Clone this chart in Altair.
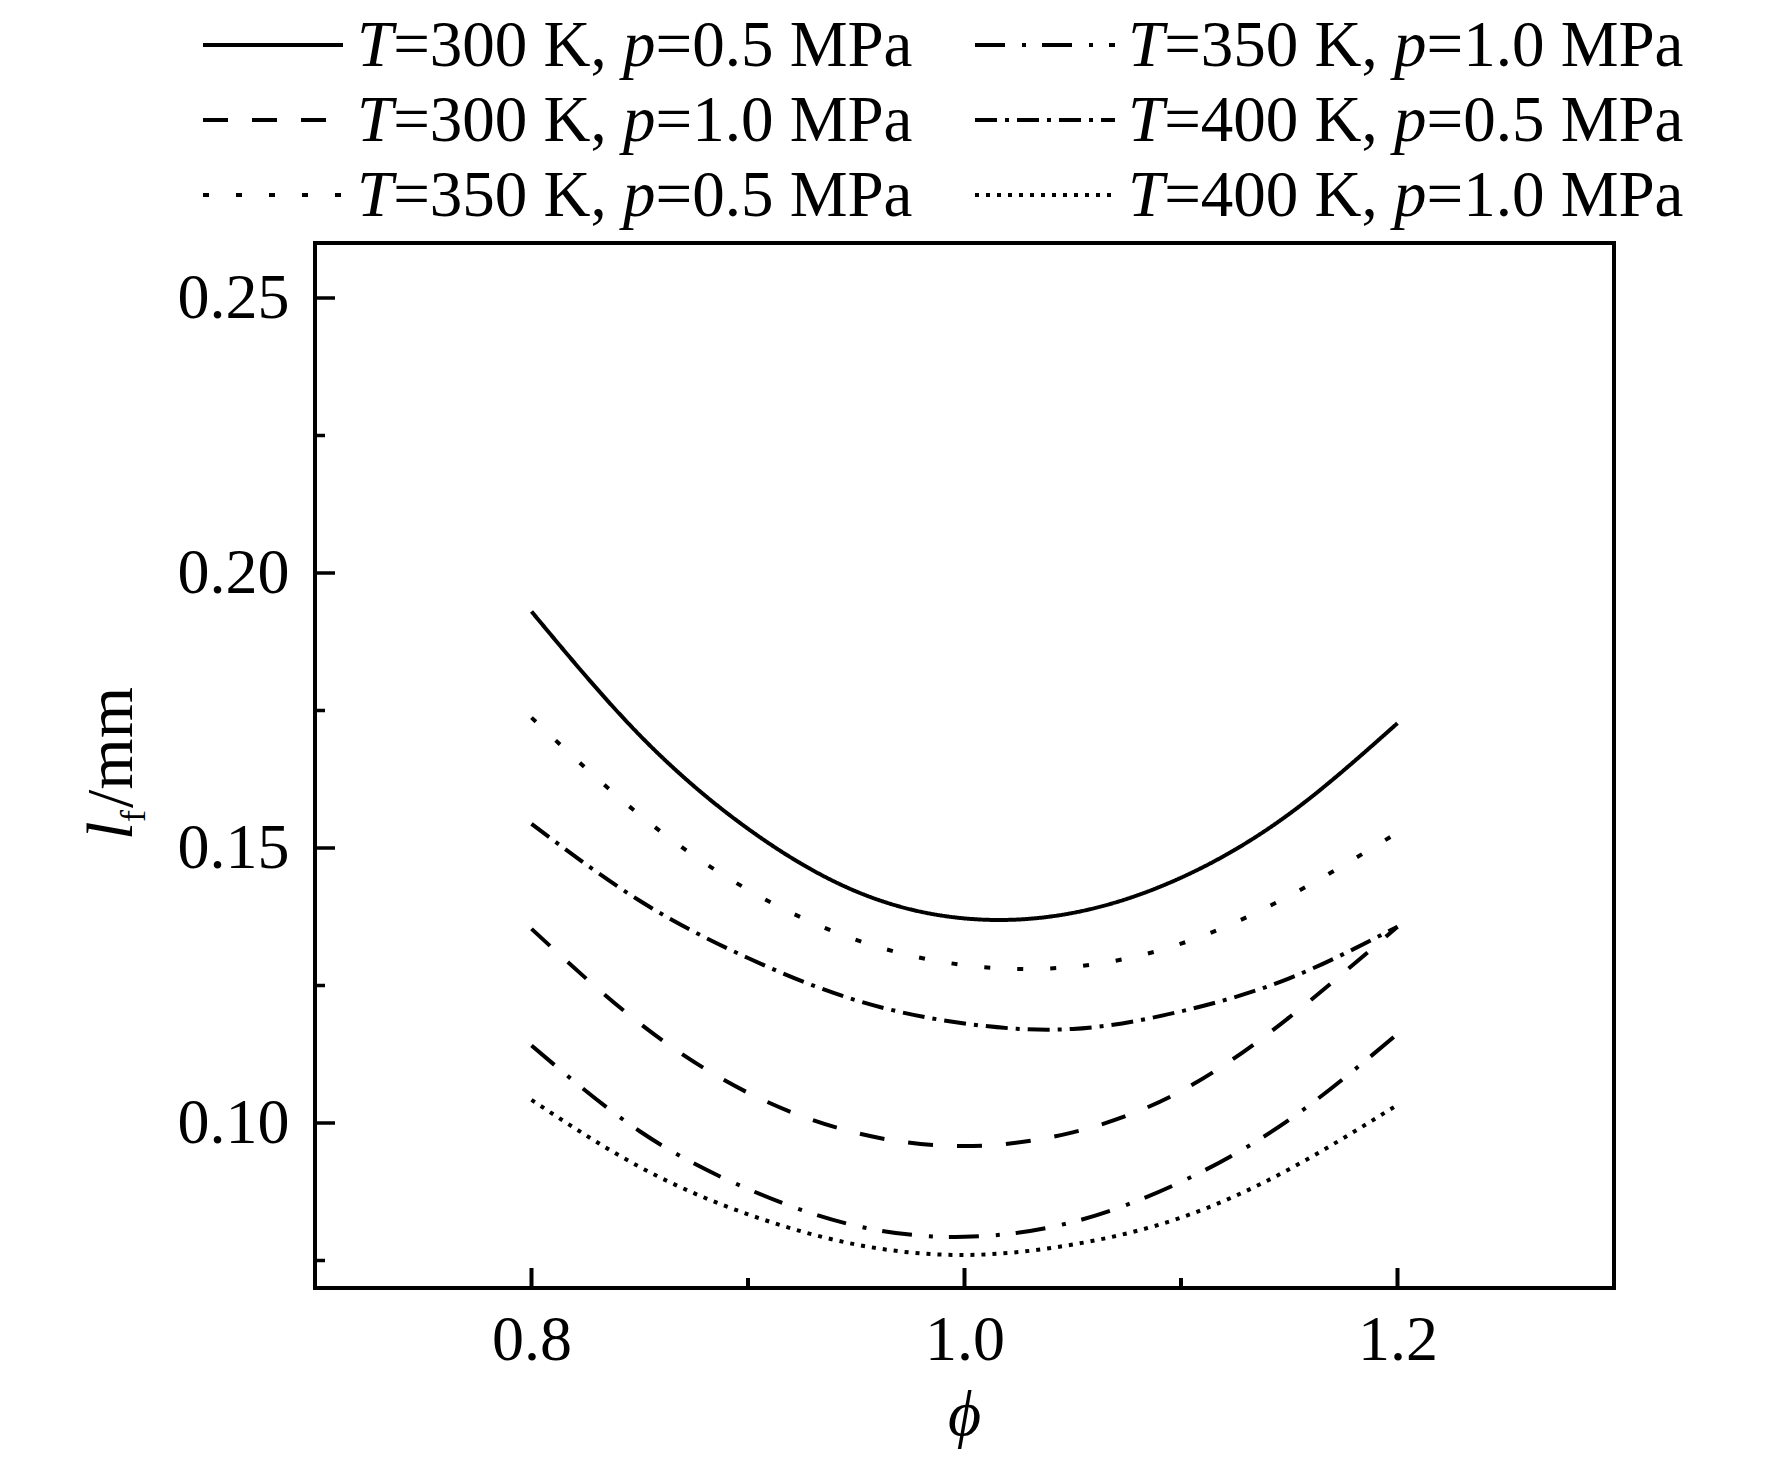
import altair as alt
import pandas as pd

# ---------------- data ----------------
phi = [0.80, 0.85, 0.90, 0.95, 1.00, 1.05, 1.10, 1.15, 1.20]
lf_300_05 = [0.1930, 0.1705, 0.1535, 0.1421, 0.1372, 0.1382, 0.1446, 0.1562, 0.1727]
lf_300_10 = [0.1353, 0.1181, 0.1055, 0.0982, 0.0958, 0.0983, 0.1058, 0.1192, 0.1357]
lf_350_05 = [0.1737, 0.1560, 0.1424, 0.1333, 0.1287, 0.1284, 0.1326, 0.1413, 0.1528]
lf_350_10 = [0.1141, 0.0985, 0.0880, 0.0813, 0.0793, 0.0820, 0.0893, 0.1006, 0.1162]
lf_400_05 = [0.1544, 0.1404, 0.1300, 0.1223, 0.1181, 0.1171, 0.1203, 0.1263, 0.1357]
lf_400_10 = [0.1042, 0.0920, 0.0834, 0.0779, 0.0760, 0.0779, 0.0828, 0.0916, 0.1033]

series_T = ["300", "300", "350", "350", "400", "400"]
series_p = ["0.5", "1.0", "0.5", "1.0", "0.5", "1.0"]
series_vals = [lf_300_05, lf_300_10, lf_350_05, lf_350_10, lf_400_05, lf_400_10]
series_dash = [[1, 0], [25, 24], [6, 27], [30, 17, 4, 16], [22, 8, 4, 8], [4, 7]]

x_label_vals = [0.8, 1.0, 1.2]
x_minor_vals = [0.9, 1.1]
y_label_vals = [0.10, 0.15, 0.20, 0.25]
y_minor_vals = [0.075, 0.125, 0.175, 0.225]

# ---------------- styling / layout ----------------
W, H = 1299, 1045
FONT = "Liberation Serif"
FS = 64
LFS = 65
names = [f"T={t} K, p={p} MPa" for t, p in zip(series_T, series_p)]

rows = []
for n, vals in zip(names, series_vals):
    for x, y in zip(phi, vals):
        rows.append({"series": n, "phi": x, "lf": y})
df = pd.DataFrame(rows)

xscale = alt.Scale(domain=[0.7, 1.3], nice=False, zero=False)
yscale = alt.Scale(domain=[0.07, 0.26], nice=False, zero=False)
dash_scale = alt.Scale(domain=names, range=series_dash)

lines = alt.Chart(df).mark_line(color="black", strokeWidth=4, interpolate="natural").encode(
    x=alt.X("phi:Q", scale=xscale,
            axis=alt.Axis(values=x_label_vals, format=".1f", ticks=False, domain=False, grid=False,
                          labelFont=FONT, labelFontSize=FS, labelColor="black", labelPadding=20,
                          labelFlush=False, title=None)),
    y=alt.Y("lf:Q", scale=yscale,
            axis=alt.Axis(values=y_label_vals, format=".2f", ticks=False, domain=False, grid=False,
                          labelFont=FONT, labelFontSize=FS, labelColor="black", labelPadding=26,
                          labelFlush=False, title=None)),
    strokeDash=alt.StrokeDash("series:N", scale=dash_scale, legend=None),
)

# inward ticks
def xticks(vals, length):
    return alt.Chart(pd.DataFrame({"v": vals})).mark_rule(color="black", strokeWidth=4).encode(
        x=alt.X("v:Q", scale=xscale), y=alt.value(H), y2=alt.value(H - length))

def yticks(vals, length):
    return alt.Chart(pd.DataFrame({"v": vals})).mark_rule(color="black", strokeWidth=3.5).encode(
        y=alt.Y("v:Q", scale=yscale), x=alt.value(0), x2=alt.value(length))

# ---------------- manual legend (italic T and p) ----------------
WID_REG = {"=": 0.564, " ": 0.25, "K": 0.722, ",": 0.25, ".": 0.25, "M": 0.889, "P": 0.556, "a": 0.444}
for d in "0123456789":
    WID_REG[d] = 0.5
WID_IT = {"T": 0.556, "p": 0.5}

def wid(s, table):
    return sum(table.get(c, 0.5) for c in s) * LFS

col_sym_x = [-112, 660]
col_txt_x = [42, 813]
row_sym_y = [-198, -123, -48]
row_base_y = [-177, -102, -27]
order = [(0, 0), (0, 1), (0, 2), (1, 0), (1, 1), (1, 2)]  # (col,row) per series

sym_rows, reg_rows, it_rows = [], [], []
for i, (c, r) in enumerate(order):
    sym_rows.append({"series": names[i], "x1": col_sym_x[c], "x2": col_sym_x[c] + 140, "y": row_sym_y[r]})
    x = col_txt_x[c]
    yb = row_base_y[r]
    it_rows.append({"px": x, "py": yb, "t": "T"})
    x += wid("T", WID_IT)
    s1 = f"={series_T[i]} K,"
    reg_rows.append({"px": x, "py": yb, "t": s1})
    x += wid(s1 + " ", WID_REG)
    it_rows.append({"px": x, "py": yb, "t": "p"})
    x += wid("p", WID_IT)
    reg_rows.append({"px": x, "py": yb, "t": f"={series_p[i]} MPa"})

leg_sym = alt.Chart(pd.DataFrame(sym_rows)).mark_rule(color="black", strokeWidth=4).encode(
    x=alt.X("x1:Q", scale=None, axis=None), x2="x2:Q",
    y=alt.Y("y:Q", scale=None, axis=None),
    strokeDash=alt.StrokeDash("series:N", scale=dash_scale, legend=None),
)

def text_layer(rows_, size, style="normal"):
    return alt.Chart(pd.DataFrame(rows_)).mark_text(
        align="left", baseline="alphabetic", font=FONT, fontSize=size, fontStyle=style, color="black"
    ).encode(x=alt.X("px:Q", scale=None, axis=None), y=alt.Y("py:Q", scale=None, axis=None), text="t:N")

leg_reg = text_layer(reg_rows, LFS)
leg_it = text_layer(it_rows, LFS, "italic")

# ---------------- axis titles ----------------
def rot_text(rows_, size, style="normal"):
    return alt.Chart(pd.DataFrame(rows_)).mark_text(
        align="left", baseline="alphabetic", font=FONT, fontSize=size, fontStyle=style, color="black", angle=270
    ).encode(x=alt.X("px:Q", scale=None, axis=None), y=alt.Y("py:Q", scale=None, axis=None), text="t:N")

ytitle_l = rot_text([{"px": -183, "py": 597, "t": "l"}], 66, "italic")
ytitle_f = rot_text([{"px": -170, "py": 579, "t": "f"}], 36)
ytitle_mm = rot_text([{"px": -183, "py": 565, "t": "/mm"}], 66)

xtitle = alt.Chart(pd.DataFrame([{"px": W / 2, "py": 1192, "t": "ϕ"}])).mark_text(
    align="center", baseline="alphabetic", font=FONT + ", DejaVu Serif", fontSize=64, fontStyle="italic",
    color="black").encode(x=alt.X("px:Q", scale=None, axis=None), y=alt.Y("py:Q", scale=None, axis=None),
                          text="t:N")

chart = alt.layer(
    lines,
    xticks(x_label_vals, 20), xticks(x_minor_vals, 10),
    yticks(y_label_vals, 20), yticks(y_minor_vals, 10),
    leg_sym, leg_reg, leg_it,
    ytitle_l, ytitle_f, ytitle_mm, xtitle,
).properties(
    width=W, height=H,
    padding={"left": 307, "top": 235, "right": 100, "bottom": 165},
    autosize=alt.AutoSizeParams(type="none"),
    background="white",
).configure_view(stroke="black", strokeWidth=4)

chart.save("out.html", embed_options={"renderer": "svg", "actions": False})
